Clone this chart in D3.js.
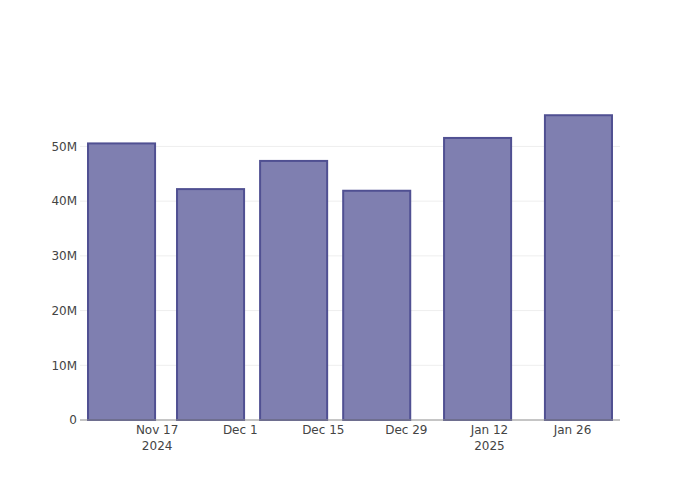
<!DOCTYPE html>
<html>
<head>
<meta charset="utf-8">
<script src="https://cdn.jsdelivr.net/npm/d3@7"></script>
<style>
  html, body { margin: 0; padding: 0; background: #fff; }
  svg { display: block; font-family: "DejaVu Sans", verdana, arial, sans-serif; }
</style>
</head>
<body>
<div id="chart"></div>
<script>
// ---- data ----
const dates = ["2024-11-11", "2024-11-26", "2024-12-10", "2024-12-24", "2025-01-10", "2025-01-27"];
const values = [50.55e6, 42.2e6, 47.35e6, 41.9e6, 51.55e6, 55.7e6];
const xTickDates = ["2024-11-17", "2024-12-01", "2024-12-15", "2024-12-29", "2025-01-12", "2025-01-26"];
const xTickLabels = [["Nov 17", "2024"], ["Dec 1"], ["Dec 15"], ["Dec 29"], ["Jan 12", "2025"], ["Jan 26"]];
const yTickValues = [0, 10e6, 20e6, 30e6, 40e6, 50e6];
const yTickLabels = ["0", "10M", "20M", "30M", "40M", "50M"];
const xDomain = ["2024-11-04", "2025-02-03"];
const barWidthDays = 11.3;

// ---- layout ----
const W = 700, H = 500;
const m = { l: 80, r: 80, t: 100, b: 80 };
const pw = W - m.l - m.r, ph = H - m.t - m.b;
const FONT = '"DejaVu Sans", verdana, arial, sans-serif';

const svg = d3.select("#chart").append("svg").attr("width", W).attr("height", H);
const g = svg.append("g").attr("transform", `translate(${m.l},${m.t})`);

const parse = d3.utcParse("%Y-%m-%d");
const x = d3.scaleUtc().domain(xDomain.map(parse)).range([0, pw]);
const y = d3.scaleLinear().domain([0, d3.max(values) * 1.05]).range([ph, 0]);

// grid
g.append("g").selectAll("line").data(yTickValues.slice(1)).join("line")
  .attr("x1", 0).attr("x2", pw)
  .attr("y1", d => y(d)).attr("y2", d => y(d))
  .attr("stroke", "#eee").attr("stroke-width", 1);

// bars
const halfMs = barWidthDays * 86400000 / 2;
g.append("g").selectAll("rect").data(dates.map((d, i) => ({ d: parse(d), v: values[i] }))).join("rect")
  .attr("x", d => x(new Date(d.d.getTime() - halfMs)))
  .attr("width", d => x(new Date(d.d.getTime() + halfMs)) - x(new Date(d.d.getTime() - halfMs)))
  .attr("y", d => y(d.v))
  .attr("height", d => y(0) - y(d.v))
  .attr("fill", "rgb(127,127,176)")
  .attr("stroke", "rgb(80,80,146)")
  .attr("stroke-width", 2);

// x axis line
g.append("line").attr("x1", 0).attr("x2", pw).attr("y1", ph).attr("y2", ph)
  .attr("stroke", "#8c8c8c").attr("stroke-width", 1);

// y tick labels
const yAxis = d3.axisLeft(y).tickValues(yTickValues).tickFormat((d, i) => yTickLabels[i]).tickSize(0).tickPadding(3);
const ya = g.append("g").call(yAxis);
ya.select(".domain").remove();
ya.selectAll("text").attr("font-size", 12).attr("fill", "#444").attr("font-family", FONT);

// x tick labels
const xt = g.append("g").selectAll("text").data(xTickDates.map((d, i) => ({ d: parse(d), lab: xTickLabels[i] }))).join("text")
  .attr("x", d => x(d.d))
  .attr("y", ph + 14)
  .attr("text-anchor", "middle")
  .attr("font-family", FONT)
  .attr("font-size", 12).attr("fill", "#444");
xt.selectAll("tspan").data(d => d.lab.map(l => ({ l, xx: x(d.d) }))).join("tspan")
  .attr("x", t => t.xx)
  .attr("dy", (t, i) => i === 0 ? 0 : 16)
  .text(t => t.l);
</script>
</body>
</html>
